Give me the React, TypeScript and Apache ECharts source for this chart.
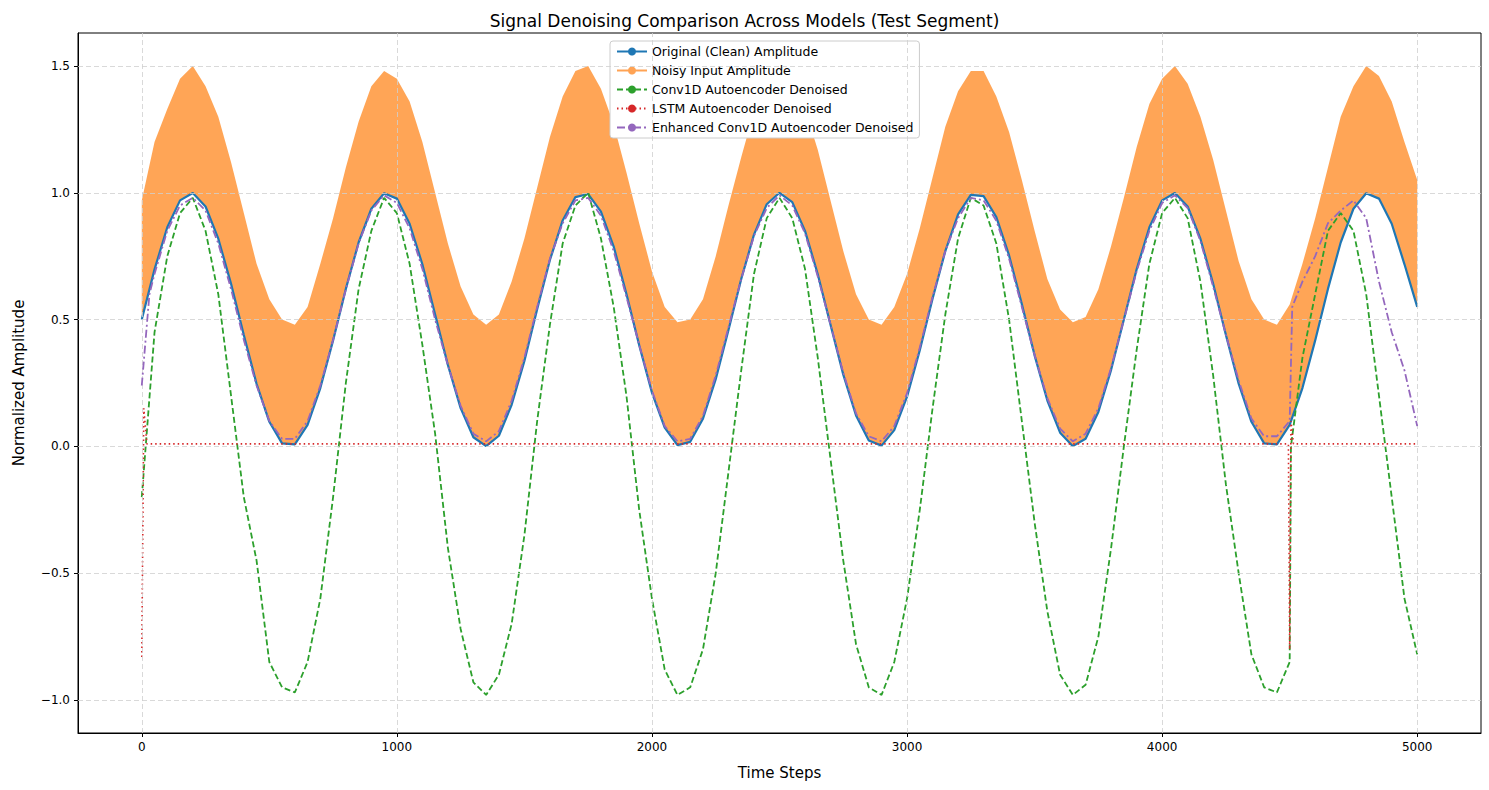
import React, { useEffect, useRef } from 'react';
import * as echarts from 'echarts';

// x positions of the sampled points (every 50 steps)
const timeSteps = Array.from({ length: 101 }, (_, i) => i * 50);

const cleanAmp = [
  0.5, 0.698, 0.864, 0.97, 0.999, 0.946, 0.819, 0.641, 0.439, 0.247, 0.097, 0.012, 0.008, 0.085, 0.23, 0.418,
  0.621, 0.804, 0.937, 0.998, 0.977, 0.878, 0.718, 0.52, 0.321, 0.151, 0.036, 0.001, 0.042, 0.164, 0.337, 0.541,
  0.735, 0.891, 0.983, 0.995, 0.926, 0.788, 0.601, 0.399, 0.212, 0.074, 0.005, 0.018, 0.109, 0.265, 0.459, 0.66,
  0.835, 0.955, 1.0, 0.963, 0.85, 0.679, 0.48, 0.283, 0.122, 0.023, 0.003, 0.064, 0.196, 0.379, 0.582, 0.77,
  0.915, 0.992, 0.987, 0.904, 0.753, 0.561, 0.359, 0.181, 0.054, 0.001, 0.03, 0.136, 0.302, 0.5, 0.698, 0.864,
  0.97, 0.999, 0.946, 0.819, 0.641, 0.439, 0.247, 0.097, 0.012, 0.008, 0.085, 0.23, 0.418, 0.621, 0.804, 0.937,
  0.998, 0.977, 0.878, 0.718, 0.55,
];

const noisyHigh = [
  0.97, 1.2, 1.33, 1.45, 1.5, 1.42, 1.3, 1.12, 0.92, 0.72, 0.58, 0.5, 0.48, 0.55, 0.72, 0.9,
  1.1, 1.28, 1.42, 1.48, 1.45, 1.36, 1.2, 1.0, 0.8, 0.63, 0.52, 0.48, 0.52, 0.65, 0.82, 1.02,
  1.22, 1.38, 1.48, 1.5, 1.41, 1.27, 1.08, 0.88, 0.69, 0.55, 0.49, 0.5, 0.58, 0.75, 0.95, 1.14,
  1.32, 1.44, 1.5, 1.45, 1.33, 1.17, 0.97, 0.77, 0.6, 0.5, 0.48, 0.55, 0.68, 0.86, 1.06, 1.26,
  1.4, 1.48, 1.48, 1.38, 1.24, 1.05, 0.85, 0.66, 0.54, 0.49, 0.51, 0.62, 0.79, 0.98, 1.18, 1.35,
  1.45, 1.5, 1.43, 1.3, 1.13, 0.93, 0.73, 0.58, 0.5, 0.48, 0.56, 0.72, 0.9, 1.1, 1.3, 1.42,
  1.5, 1.46, 1.36, 1.2, 1.05,
];

const conv1dPoints: [number, number][] = [
  [0, -0.2], [50, 0.45], [100, 0.75], [150, 0.92], [200, 0.98], [250, 0.85], [300, 0.6], [350, 0.2],
  [400, -0.2], [450, -0.45], [500, -0.85], [550, -0.95], [600, -0.97], [650, -0.85], [700, -0.6], [750, -0.2],
  [800, 0.25], [850, 0.62], [900, 0.85], [950, 0.98], [1000, 0.92], [1050, 0.72], [1100, 0.4], [1150, 0.05],
  [1200, -0.4], [1250, -0.72], [1300, -0.93], [1350, -0.98], [1400, -0.9], [1450, -0.7], [1500, -0.35], [1550, 0.1],
  [1600, 0.48], [1650, 0.8], [1700, 0.95], [1750, 1.0], [1800, 0.82], [1850, 0.55], [1900, 0.2], [1950, -0.25],
  [2000, -0.6], [2050, -0.88], [2100, -0.98], [2150, -0.95], [2200, -0.8], [2250, -0.5], [2300, -0.1], [2350, 0.3],
  [2400, 0.68], [2450, 0.9], [2500, 0.98], [2550, 0.9], [2600, 0.7], [2650, 0.35], [2700, -0.05], [2750, -0.45],
  [2800, -0.78], [2850, -0.95], [2900, -0.98], [2950, -0.85], [3000, -0.6], [3050, -0.25], [3100, 0.15], [3150, 0.52],
  [3200, 0.82], [3250, 0.98], [3300, 0.95], [3350, 0.8], [3400, 0.5], [3450, 0.1], [3500, -0.3], [3550, -0.65],
  [3600, -0.9], [3650, -0.98], [3700, -0.94], [3750, -0.75], [3800, -0.4], [3850, 0.0], [3900, 0.38], [3950, 0.72],
  [4000, 0.92], [4050, 0.98], [4100, 0.9], [4150, 0.65], [4200, 0.28], [4250, -0.15], [4300, -0.5], [4350, -0.82],
  [4400, -0.95], [4450, -0.97], [4500, -0.85], [4505, 0.0], [4550, 0.35], [4600, 0.6], [4650, 0.85], [4700, 0.92],
  [4750, 0.85], [4800, 0.6], [4850, 0.2], [4900, -0.2], [4950, -0.6], [5000, -0.82],
];

const lstmPoints: [number, number][] = [
  [0, -0.83], [8, 0.15], [20, 0.01], [4495, 0.01], [4500, -0.8], [4505, 0.1], [4515, 0.01], [5000, 0.01],
];

const enhancedPoints: [number, number][] = [
  [0, 0.24], [30, 0.6], [50, 0.68], [100, 0.85], [150, 0.95], [200, 0.98], [250, 0.93], [300, 0.8], [350, 0.62],
  [400, 0.42], [450, 0.24], [500, 0.1], [550, 0.03], [600, 0.03], [650, 0.1], [700, 0.24], [750, 0.42],
  [800, 0.62], [850, 0.8], [900, 0.93], [950, 0.99], [1000, 0.96], [1050, 0.86], [1100, 0.7], [1150, 0.5],
  [1200, 0.32], [1250, 0.16], [1300, 0.05], [1350, 0.02], [1400, 0.06], [1450, 0.18], [1500, 0.35], [1550, 0.55],
  [1600, 0.74], [1650, 0.88], [1700, 0.97], [1750, 0.98], [1800, 0.91], [1850, 0.77], [1900, 0.59], [1950, 0.4],
  [2000, 0.22], [2050, 0.08], [2100, 0.02], [2150, 0.03], [2200, 0.12], [2250, 0.28], [2300, 0.47], [2350, 0.66],
  [2400, 0.83], [2450, 0.94], [2500, 0.99], [2550, 0.95], [2600, 0.84], [2650, 0.67], [2700, 0.48], [2750, 0.29],
  [2800, 0.13], [2850, 0.04], [2900, 0.02], [2950, 0.08], [3000, 0.21], [3050, 0.39], [3100, 0.59], [3150, 0.77],
  [3200, 0.9], [3250, 0.98], [3300, 0.97], [3350, 0.89], [3400, 0.74], [3450, 0.55], [3500, 0.36], [3550, 0.19],
  [3600, 0.07], [3650, 0.02], [3700, 0.05], [3750, 0.15], [3800, 0.31], [3850, 0.5], [3900, 0.69], [3950, 0.85],
  [4000, 0.96], [4050, 0.99], [4100, 0.94], [4150, 0.81], [4200, 0.63], [4250, 0.44], [4300, 0.26], [4350, 0.11],
  [4400, 0.04], [4450, 0.04], [4500, 0.1], [4510, 0.55], [4550, 0.65], [4600, 0.75], [4650, 0.88], [4700, 0.93],
  [4750, 0.97], [4800, 0.9], [4850, 0.65], [4900, 0.45], [4950, 0.3], [5000, 0.08],
];

const xTicks = [0, 1000, 2000, 3000, 4000, 5000];
const yTicks = [-1.0, -0.5, 0.0, 0.5, 1.0, 1.5];

const FONT = 'DejaVu Sans';

const App: React.FC = () => {
  const chartRef = useRef<HTMLDivElement>(null);

  useEffect(() => {
    document.body.style.margin = '0';
    if (!chartRef.current) return;
    const chart = echarts.init(chartRef.current, undefined, { renderer: 'svg' });

    const cleanData = timeSteps.map((x, i) => [x, cleanAmp[i]]);

    const gridLines = [
      ...xTicks.map((v) => ({ xAxis: v })),
      ...yTicks.map((v) => ({ yAxis: v })),
    ];

    const option: echarts.EChartsOption = {
      animation: false,
      textStyle: { fontFamily: FONT },
      title: {
        text: 'Signal Denoising Comparison Across Models (Test Segment)',
        left: 'center',
        top: 7,
        textStyle: { fontSize: 17, fontWeight: 'normal', color: '#000', fontFamily: FONT },
      },
      legend: {
        orient: 'vertical',
        left: 610,
        top: 41,
        itemWidth: 30,
        itemHeight: 10,
        itemGap: 6,
        padding: [4, 6],
        backgroundColor: '#fff',
        borderColor: '#ccc',
        borderWidth: 1,
        borderRadius: 3,
        textStyle: { fontSize: 12.5, color: '#000', fontFamily: FONT },
        data: [
          'Original (Clean) Amplitude',
          'Noisy Input Amplitude',
          'Conv1D Autoencoder Denoised',
          'LSTM Autoencoder Denoised',
          'Enhanced Conv1D Autoencoder Denoised',
        ],
      },
      grid: {
        left: 78,
        right: 8,
        top: 33,
        bottom: 57,
        show: true,
        borderColor: '#000',
        borderWidth: 1,
      },
      xAxis: {
        type: 'value',
        min: -250,
        max: 5250,
        name: 'Time Steps',
        nameLocation: 'middle',
        nameGap: 32,
        nameTextStyle: { fontSize: 15, color: '#000' },
        axisLine: { show: true, onZero: false, lineStyle: { color: '#000' } },
        axisTick: { show: true, customValues: xTicks, length: 4, lineStyle: { color: '#000' } },
        axisLabel: { customValues: xTicks, color: '#000', fontSize: 12, formatter: (v: number) => String(v) },
        splitLine: { show: false },
      },
      yAxis: {
        type: 'value',
        min: -1.13,
        max: 1.63,
        name: 'Normalized Amplitude',
        nameLocation: 'middle',
        nameGap: 52,
        nameTextStyle: { fontSize: 15, color: '#000' },
        axisLine: { show: true, onZero: false, lineStyle: { color: '#000' } },
        axisTick: { show: true, customValues: yTicks, length: 4, lineStyle: { color: '#000' } },
        axisLabel: {
          customValues: yTicks,
          color: '#000',
          fontSize: 12,
          formatter: (v: number) => v.toFixed(1).replace('-', '\u2212'),
        },
        splitLine: { show: false },
      },
      series: [
        {
          type: 'custom',
          name: 'noisyBand',
          silent: true,
          z: 1,
          data: [[0, 0]],
          renderItem: (_params: any, api: any) => {
            const upper = timeSteps.map((x, i) => api.coord([x, noisyHigh[i]]));
            const lower = timeSteps.map((x, i) => api.coord([x, cleanAmp[i]])).reverse();
            return {
              type: 'polygon',
              shape: { points: [...upper, ...lower] },
              style: { fill: 'rgba(255,127,14,0.7)', stroke: 'none' },
            };
          },
          markLine: {
            silent: true,
            symbol: 'none',
            label: { show: false },
            lineStyle: { color: '#cfcfcf', type: [5, 3], width: 0.8 },
            data: gridLines as any,
          },
        } as any,
        {
          type: 'line',
          name: 'Original (Clean) Amplitude',
          data: cleanData,
          symbol: 'none',
          z: 2,
          color: '#1f77b4',
          lineStyle: { width: 2.2, color: '#1f77b4' },
        },
        {
          type: 'line',
          name: 'Noisy Input Amplitude',
          data: [],
          symbol: 'none',
          color: '#ffa354',
          lineStyle: { width: 1.5, color: '#ffa354' },
        },
        {
          type: 'line',
          name: 'Conv1D Autoencoder Denoised',
          data: conv1dPoints,
          symbol: 'none',
          z: 3,
          color: '#2ca02c',
          lineStyle: { width: 1.8, type: [6, 3], color: '#2ca02c' },
        },
        {
          type: 'line',
          name: 'LSTM Autoencoder Denoised',
          data: lstmPoints,
          symbol: 'none',
          z: 4,
          color: '#d62728',
          lineStyle: { width: 1.6, type: [1.5, 3], color: '#d62728' },
        },
        {
          type: 'line',
          name: 'Enhanced Conv1D Autoencoder Denoised',
          data: enhancedPoints,
          symbol: 'none',
          z: 5,
          color: '#9467bd',
          lineStyle: { width: 1.8, type: [8, 3, 2, 3], color: '#9467bd' },
        },
      ],
    };

    chart.setOption(option);
    return () => chart.dispose();
  }, []);

  return <div ref={chartRef} style={{ width: 1489, height: 790 }} />;
};

export default App;
